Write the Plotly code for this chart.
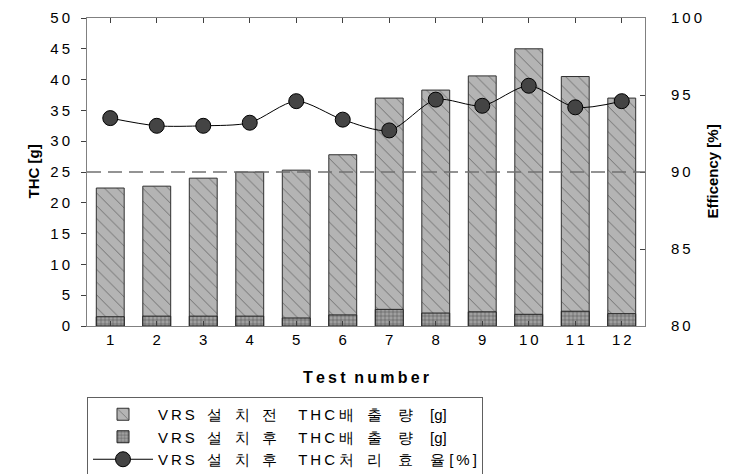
import plotly.graph_objects as go

tests = list(range(1, 13))
thc_before = [22.4, 22.7, 24.0, 25.0, 25.3, 27.8, 37.0, 38.3, 40.6, 45.0, 40.5, 37.0]
thc_after = [1.5, 1.6, 1.6, 1.6, 1.3, 1.8, 2.7, 2.1, 2.3, 1.9, 2.4, 2.0]
efficiency = [93.5, 93.0, 93.0, 93.2, 94.6, 93.4, 92.7, 94.7, 94.3, 95.6, 94.2, 94.6]

y_ticks = [0, 5, 10, 15, 20, 25, 30, 35, 40, 45, 50]
y2_ticks = [80, 85, 90, 95, 100]

T = "\u2009"  # thin space, to mimic the wide letter spacing of the original


def spaced(s):
    return T.join(s)


name_before = f"{spaced('VRS')}   설   치   전     {spaced('THC')} 배   출    량    [g]"
name_after = f"{spaced('VRS')}   설   치   후     {spaced('THC')} 배   출    량    [g]"
name_eff = f"{spaced('VRS')}   설   치   후     {spaced('THC')} 처   리    효    율 {spaced('[%]')}"

font_family = "Liberation Sans, Arial, sans-serif"

# the page adds an 8px body margin, so the figure is sized to fit the window
W, H = 723, 466
L, R, TOP, B = 79, 86, 10, 148
PW = W - L - R

fig = go.Figure()
fig.add_trace(go.Bar(
    x=tests, y=thc_before, name=name_before, width=0.6,
    marker=dict(color="#b4b4b4", line=dict(color="#303030", width=1),
                pattern=dict(shape="\\", fgcolor="#202020", bgcolor="#b4b4b4", size=9, solidity=0.1)),
))
fig.add_trace(go.Bar(
    x=tests, y=thc_after, name=name_after, width=0.6,
    marker=dict(color="#909090", line=dict(color="#202020", width=1),
                pattern=dict(shape="+", fgcolor="#202020", bgcolor="#a0a0a0", size=4, solidity=0.3)),
))
fig.add_trace(go.Scatter(
    x=tests, y=efficiency, name=name_eff, yaxis="y2", mode="lines+markers",
    line=dict(color="black", width=1, shape="spline", smoothing=0.8),
    marker=dict(symbol="circle", size=15, color="#444444", line=dict(color="black", width=1)),
))

fig.add_shape(type="line", xref="paper", x0=0, x1=1, yref="y", y0=25, y1=25,
              line=dict(color="#707070", width=1.5, dash="14px,7px"))

# y-axis titles as rotated annotations
fig.add_annotation(text="<b>THC [g]</b>", xref="paper", yref="paper",
                   x=(14 - L) / PW, y=0.5, textangle=-90, showarrow=False,
                   font=dict(size=15, color="black"))
fig.add_annotation(text="<b>Efficency [%]</b>", xref="paper", yref="paper",
                   x=(714 - L) / PW, y=0.5, textangle=-90, showarrow=False,
                   font=dict(size=15, color="black"))

axis_line = dict(showline=True, linecolor="#808080", linewidth=1)
fig.update_layout(
    width=W, height=H,
    margin=dict(l=L, r=R, t=TOP, b=B, pad=0, autoexpand=False),
    paper_bgcolor="white", plot_bgcolor="white",
    barmode="overlay",
    font=dict(family=font_family, size=15, color="black"),
    showlegend=True,
    legend=dict(xref="container", yref="container", x=L / W, y=1 - 389 / H,
                xanchor="left", yanchor="top",
                bordercolor="#606060", borderwidth=1, bgcolor="white",
                font=dict(size=15), itemwidth=60, tracegroupgap=0,
                traceorder="normal"),
    xaxis=dict(range=[0.5, 12.5], tickmode="array", tickvals=tests,
               ticktext=[spaced(str(t)) for t in tests],
               ticks="inside", ticklen=5, tickcolor="#404040", mirror="ticks",
               showgrid=False, zeroline=False, **axis_line,
               title=dict(text="<b>" + spaced("Test") + "  " + spaced("number") + "</b>",
                          font=dict(size=16), standoff=24)),
    yaxis=dict(range=[0, 50], tickmode="array", tickvals=y_ticks,
               ticktext=[spaced(str(t)) for t in y_ticks],
               ticks="outside", ticklen=5, tickcolor="#404040", ticklabelstandoff=8,
               showgrid=False, zeroline=False, **axis_line),
    yaxis2=dict(range=[80, 100], tickmode="array", tickvals=y2_ticks,
                ticktext=[spaced(str(t)) for t in y2_ticks],
                overlaying="y", side="right",
                ticks="inside", ticklen=5, tickcolor="#404040", ticklabelstandoff=22,
                showgrid=False, zeroline=False, **axis_line),
)

fig.write_html("out.html")
